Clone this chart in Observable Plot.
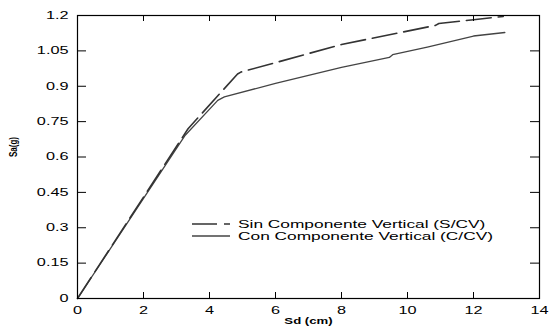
<!DOCTYPE html>
<html><head><meta charset="utf-8">
<script src="https://cdn.jsdelivr.net/npm/d3@7"></script>
<script src="https://cdn.jsdelivr.net/npm/@observablehq/plot@0.6"></script>
<style>body{margin:0;background:#fff} svg{display:block}</style>
</head><body><div id="chart"></div>
<script>
// Data
const sinX = [0, 3.35, 4.85, 4.95, 6.0, 8.0, 10.85, 10.95, 12.0, 12.9];
const sinY = [0, 0.72, 0.952, 0.96, 1.0, 1.077, 1.158, 1.166, 1.182, 1.196];
const conX = [0, 3.25, 4.25, 4.45, 6.0, 8.0, 9.45, 9.55, 10.6, 12.0, 12.95];
const conY = [0, 0.69, 0.84, 0.855, 0.912, 0.98, 1.022, 1.034, 1.066, 1.113, 1.128];
const xTicks = [0, 2, 4, 6, 8, 10, 12, 14];
const yTicks = [0, 0.15, 0.3, 0.45, 0.6, 0.75, 0.9, 1.05, 1.2];
const seriesNames = ["Sin Componente Vertical (S/CV)", "Con Componente Vertical (C/CV)"];
const xLabel = "Sd (cm)";
const yLabel = "Sa(g)";

const sin = sinX.map((x, i) => ({x, y: sinY[i]}));
const con = conX.map((x, i) => ({x, y: conY[i]}));

const W = 549, H = 328, ml = 77, mr = 10, mt = 15, mb = 30;
const iw = W - ml - mr, ih = H - mt - mb;
const font = "'Liberation Sans', Arial, Helvetica, sans-serif";
const SX = 1.55; // horizontal text stretch seen in the reference

const plot = Plot.plot({
  width: W, height: H,
  marginLeft: ml, marginRight: mr, marginTop: mt, marginBottom: mb,
  style: {fontFamily: font, fontSize: "10.5px", background: "#fff", color: "#000"},
  x: {domain: [0, 14]},
  y: {domain: [0, 1.2]},
  marks: [
    Plot.line(con, {x: "x", y: "y", stroke: "#444", strokeWidth: 1.3}),
    Plot.line(sin, {x: "x", y: "y", stroke: "#333", strokeWidth: 1.6, strokeDasharray: "25,7"}),
    Plot.tickX(xTicks, {x: d => d, insetTop: ih - 6, stroke: "#000"}),
    Plot.tickX(xTicks, {x: d => d, insetBottom: ih - 6, stroke: "#000"}),
    Plot.tickY(yTicks, {y: d => d, insetRight: iw - 9, stroke: "#000"}),
    Plot.tickY(yTicks, {y: d => d, insetLeft: iw - 9, stroke: "#000"}),
    Plot.frame({stroke: "#000", strokeWidth: 1.2}),
    Plot.axisX({ticks: xTicks, tickSize: 0, tickPadding: 8, label: null, tickFormat: d => String(d)}),
    Plot.axisY({ticks: yTicks, tickSize: 0, tickPadding: 9, label: null, tickFormat: d => String(d)}),
    Plot.text([xLabel], {frameAnchor: "bottom", dy: 25, fontWeight: "bold", fontSize: 8.5}),
    Plot.text([yLabel], {frameAnchor: "left", dx: -64, rotate: -90, fontWeight: "bold", fontSize: 8})
  ]
});

// stretch texts horizontally as in the reference
d3.select(plot).selectAll("text").each(function() {
  const t = d3.select(this);
  let tr = t.attr("transform");
  if (!tr) {
    const x = +t.attr("x") || 0, y = +t.attr("y") || 0;
    t.attr("x", null).attr("y", null);
    tr = `translate(${x},${y})`;
  }
  if (tr.includes("rotate")) t.attr("transform", tr + " scale(1,1.4)");
  else t.attr("transform", tr + ` scale(${SX},1)`);
});

// legend inside the frame
const legendItems = [
  {label: seriesNames[0], stroke: "#333", width: 1.6, dash: "25,7"},
  {label: seriesNames[1], stroke: "#444", width: 1.3, dash: null}
];
const lg = d3.select(plot).append("g").attr("transform", "translate(192,224)")
  .attr("text-anchor", "start");
legendItems.forEach((s, i) => {
  const g = lg.append("g").attr("transform", `translate(0,${i * 12})`);
  g.append("line").attr("x1", 0).attr("x2", 38).attr("y1", 0).attr("y2", 0)
    .attr("stroke", s.stroke).attr("stroke-width", s.width)
    .attr("stroke-dasharray", s.dash);
  g.append("text").attr("transform", `translate(46,0) scale(${SX + 0.1},1)`)
    .attr("text-anchor", "start")
    .attr("dy", "0.35em").attr("font-size", 10.5).attr("font-family", font)
    .attr("fill", "#000").text(s.label);
});

document.getElementById("chart").appendChild(plot);
</script>
</body></html>
